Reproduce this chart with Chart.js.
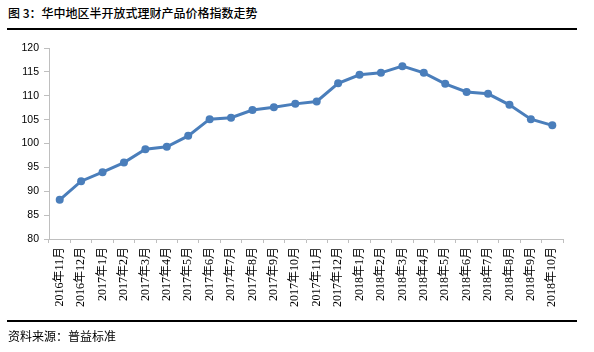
<!DOCTYPE html>
<html>
<head>
<meta charset="utf-8">
<script src="https://cdn.jsdelivr.net/npm/chart.js@4/dist/chart.umd.min.js"></script>
<style>
  html, body { margin:0; padding:0; background:#fff; }
  #wrap { position:relative; width:594px; height:352px; overflow:hidden; }
  #c { position:absolute; left:0; top:0; }
  .txt { position:absolute; left:8px; font-family:"Noto Sans CJK SC","Noto Sans",sans-serif; font-size:12px; color:#000; white-space:nowrap; }
  .rule { position:absolute; left:7px; width:570px; height:1.5px; background:#000; }
</style>
</head>
<body>
<div id="wrap">
  <div class="txt" style="top:4px;font-weight:500;">图 3：华中地区半开放式理财产品价格指数走势</div>
  <div class="rule" style="top:28px;"></div>
  <canvas id="c" width="594" height="352"></canvas>
  <div class="rule" style="top:320px;"></div>
  <div class="txt" style="top:327px;">资料来源：普益标准</div>
</div>
<script>
const categories = ["2016年11月","2016年12月","2017年1月","2017年2月","2017年3月","2017年4月","2017年5月","2017年6月","2017年7月","2017年8月","2017年9月","2017年10月","2017年11月","2017年12月","2018年1月","2018年2月","2018年3月","2018年4月","2018年5月","2018年6月","2018年7月","2018年8月","2018年9月","2018年10月"];
const priceIndex = [88.2, 92.1, 94.0, 96.0, 98.8, 99.3, 101.6, 105.1, 105.4, 107.0, 107.6, 108.3, 108.8, 112.6, 114.4, 114.8, 116.2, 114.8, 112.5, 110.8, 110.4, 108.1, 105.1, 103.8];
const yMin = 80, yMax = 120, yStep = 5;

const color = '#4A7EBB';
new Chart(document.getElementById('c'), {
  type: 'line',
  data: {
    labels: categories,
    datasets: [{
      data: priceIndex,
      borderColor: color,
      backgroundColor: color,
      borderWidth: 3,
      pointRadius: 4,
      pointBorderWidth: 0,
      pointBackgroundColor: color,
      tension: 0,
      fill: false
    }]
  },
  options: {
    responsive: false,
    animation: false,
    devicePixelRatio: 1,
    layout: { padding: { left: 0, right: 31, top: 48, bottom: 43 } },
    plugins: { legend: { display: false }, tooltip: { enabled: false }, title: { display: false } },
    scales: {
      x: {
        offset: true,
        grid: { display: true, offset: true, drawOnChartArea: false, tickLength: 4, color: '#bfbfbf' },
        border: { display: true, color: '#bfbfbf', width: 1 },
        ticks: {
          autoSkip: false, minRotation: 90, maxRotation: 90, padding: 4,
          color: '#000',
          font: { family: "'Liberation Serif','Noto Sans CJK SC',serif", size: 12 }
        },
        afterFit(scale) { scale.height = 70; }
      },
      y: {
        min: yMin, max: yMax,
        grid: { display: true, drawOnChartArea: false, tickLength: 5, color: '#bfbfbf' },
        border: { display: true, color: '#bfbfbf', width: 1 },
        ticks: {
          stepSize: yStep, padding: 5, color: '#000',
          font: { family: "'Liberation Sans',Arial,sans-serif", size: 10.5 }
        },
        afterFit(scale) { scale.width = 49; }
      }
    }
  }
});
</script>
</body>
</html>
